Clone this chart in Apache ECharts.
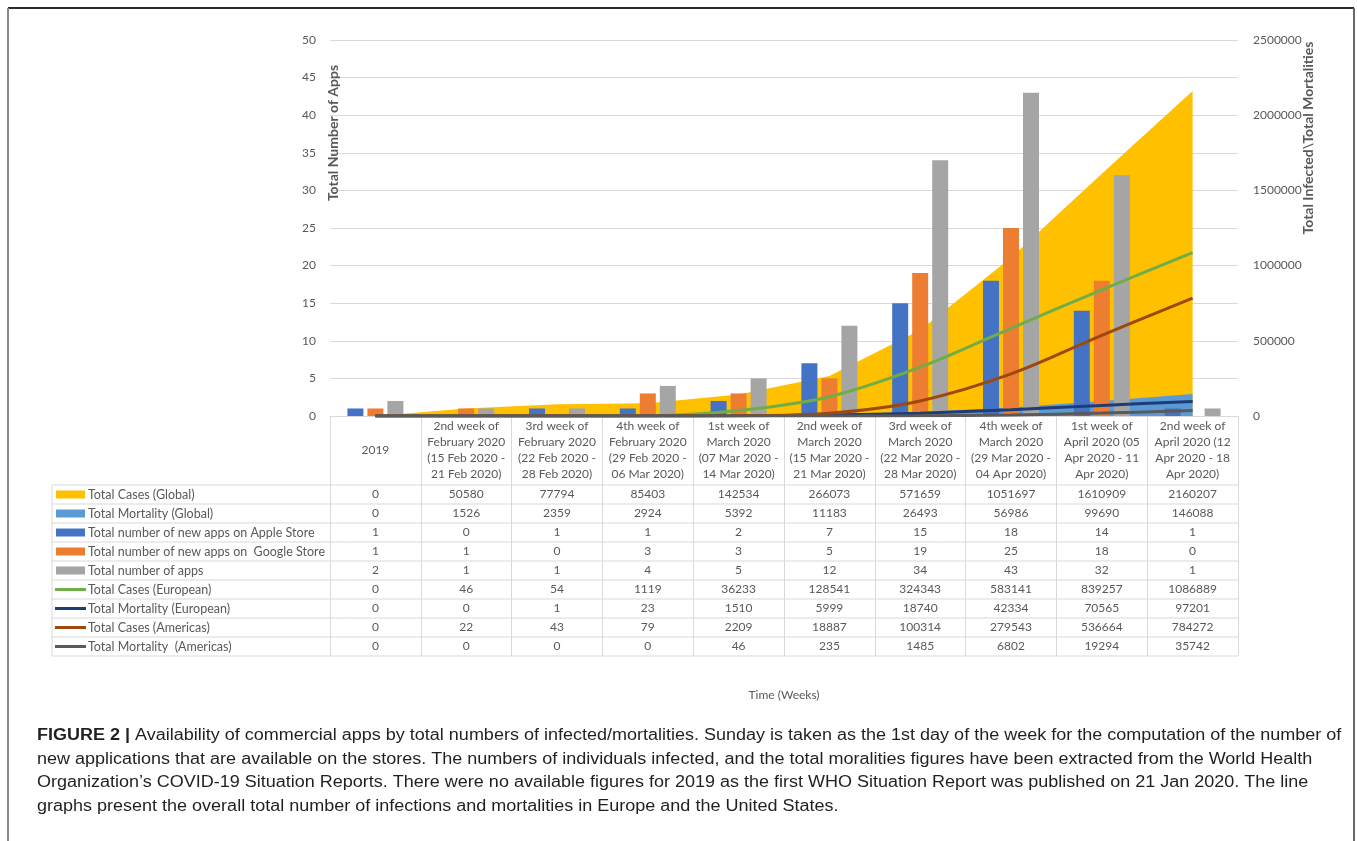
<!DOCTYPE html>
<html>
<head>
<meta charset="utf-8">
<title>Availability of commercial apps vs infected/mortalities</title>
<script src="https://cdn.jsdelivr.net/npm/echarts@6/dist/echarts.min.js"></script>
<style>
  html, body { margin: 0; padding: 0; background: #fff; }
  #chart { width: 1357px; height: 841px; }
</style>
</head>
<body>
<div id="chart"></div>
<script>
// categories (data-table header)
const weeks = [
  "2019",
  "2nd week of\nFebruary 2020\n(15 Feb 2020 -\n21 Feb 2020)",
  "3rd week of\nFebruary 2020\n(22 Feb 2020 -\n28 Feb 2020)",
  "4th week of\nFebruary 2020\n(29 Feb 2020 -\n06 Mar 2020)",
  "1st week of\nMarch 2020\n(07 Mar 2020 -\n14 Mar 2020)",
  "2nd week of\nMarch 2020\n(15 Mar 2020 -\n21 Mar 2020)",
  "3rd week of\nMarch 2020\n(22 Mar 2020 -\n28 Mar 2020)",
  "4th week of\nMarch 2020\n(29 Mar 2020 -\n04 Apr 2020)",
  "1st week of\nApril 2020 (05\nApr 2020 - 11\nApr 2020)",
  "2nd week of\nApril 2020 (12\nApr 2020 - 18\nApr 2020)"
];

const totalCasesGlobal = [0, 50580, 77794, 85403, 142534, 266073, 571659, 1051697, 1610909, 2160207];
const totalMortalityGlobal = [0, 1526, 2359, 2924, 5392, 11183, 26493, 56986, 99690, 146088];
const appleApps = [1, 0, 1, 1, 2, 7, 15, 18, 14, 1];
const googleApps = [1, 1, 0, 3, 3, 5, 19, 25, 18, 0];
const totalApps = [2, 1, 1, 4, 5, 12, 34, 43, 32, 1];
const casesEuropean = [0, 46, 54, 1119, 36233, 128541, 324343, 583141, 839257, 1086889];
const mortalityEuropean = [0, 0, 1, 23, 1510, 5999, 18740, 42334, 70565, 97201];
const casesAmericas = [0, 22, 43, 79, 2209, 18887, 100314, 279543, 536664, 784272];
const mortalityAmericas = [0, 0, 0, 0, 46, 235, 1485, 6802, 19294, 35742];

const leftTicks = { min: 0, max: 50, interval: 5 };
const rightTicks = { min: 0, max: 2500000, interval: 500000 };

// rows of the data table, in table order
const rows = [
  { name: "Total Cases (Global)", data: totalCasesGlobal, kind: "area", color: "#FFC000" },
  { name: "Total Mortality (Global)", data: totalMortalityGlobal, kind: "area", color: "#5B9BD5" },
  { name: "Total number of new apps on Apple Store", data: appleApps, kind: "bar", color: "#4472C4" },
  { name: "Total number of new apps on  Google Store", data: googleApps, kind: "bar", color: "#ED7D31" },
  { name: "Total number of apps", data: totalApps, kind: "bar", color: "#A5A5A5" },
  { name: "Total Cases (European)", data: casesEuropean, kind: "line", color: "#70AD47" },
  { name: "Total Mortality (European)", data: mortalityEuropean, kind: "line", color: "#203C74" },
  { name: "Total Cases (Americas)", data: casesAmericas, kind: "line", color: "#9E480E" },
  { name: "Total Mortality  (Americas)", data: mortalityAmericas, kind: "line", color: "#5A5A5A" }
];

const W = 1357, H = 841;
const GRID_L = 330, GRID_R = 1238, GRID_T = 40, GRID_B = 416;
const HEAD_BOTTOM = 485, ROW_H = 19, LABEL_X = 52;
const FONT = "Lato, 'Open Sans', sans-serif";
const CAPTION_FONT = "'Liberation Sans', Arial, sans-serif";
const TEXT_GREY = "#595959";
const LINE_GREY = "#D9D9D9";

const chart = echarts.init(document.getElementById("chart"), null, { renderer: "canvas" });

const series = rows.map((r) => {
  if (r.kind === "bar") {
    return {
      name: r.name, type: "bar", xAxisIndex: 0, yAxisIndex: 0,
      data: r.data, barWidth: 16, barGap: "25%",
      itemStyle: { color: r.color }
    };
  }
  if (r.kind === "area") {
    return {
      name: r.name, type: "line", xAxisIndex: 0, yAxisIndex: 1,
      data: r.data, symbol: "none", z: 1,
      lineStyle: { width: 0, color: r.color },
      itemStyle: { color: r.color },
      areaStyle: { color: r.color, opacity: 1 }
    };
  }
  return {
    name: r.name, type: "line", xAxisIndex: 0, yAxisIndex: 1,
    data: r.data, symbol: "none", smooth: 0.35, z: 3,
    lineStyle: { width: 3, color: r.color },
    itemStyle: { color: r.color }
  };
});

// header axis + one axis per table row (values as labels)
const xAxes = [{
  type: "category", data: weeks, position: "bottom", boundaryGap: true,
  name: "Time (Weeks)", nameLocation: "middle", nameGap: 273,
  nameTextStyle: { color: TEXT_GREY, fontSize: 12, fontFamily: FONT },
  axisLine: { show: true, lineStyle: { color: LINE_GREY, width: 1 } },
  axisTick: { show: true, interval: 0, length: HEAD_BOTTOM - GRID_B + rows.length * ROW_H, lineStyle: { color: LINE_GREY } },
  axisLabel: {
    interval: 0, margin: 34, verticalAlign: "middle", lineHeight: 16,
    color: TEXT_GREY, fontSize: 12, fontFamily: FONT
  }
}];
rows.forEach((r, i) => {
  xAxes.push({
    type: "category", data: weeks, position: "bottom",
    offset: HEAD_BOTTOM - GRID_B + ROW_H * i + ROW_H / 2,
    axisLine: { show: false }, axisTick: { show: false }, splitLine: { show: false },
    axisLabel: {
      interval: 0, margin: 0, verticalAlign: "middle",
      color: TEXT_GREY, fontSize: 12, fontFamily: FONT,
      formatter: (v, idx) => String(r.data[idx])
    }
  });
});

// table row lines, row labels with legend keys, frame, titles, caption
const graphics = [];
for (let k = 0; k <= rows.length; k++) {
  const y = HEAD_BOTTOM + k * ROW_H;
  graphics.push({ type: "line", shape: { x1: LABEL_X, y1: y, x2: GRID_R, y2: y }, style: { stroke: LINE_GREY, lineWidth: 1 }, z: 10 });
}
graphics.push({ type: "line", shape: { x1: LABEL_X, y1: HEAD_BOTTOM, x2: LABEL_X, y2: HEAD_BOTTOM + rows.length * ROW_H }, style: { stroke: LINE_GREY, lineWidth: 1 }, z: 10 });
rows.forEach((r, i) => {
  const cy = HEAD_BOTTOM + i * ROW_H + ROW_H / 2;
  if (r.kind === "line") {
    graphics.push({ type: "rect", shape: { x: 55, y: cy - 1.5, width: 31, height: 3 }, style: { fill: r.color }, z: 10 });
  } else {
    graphics.push({ type: "rect", shape: { x: 56, y: cy - 4, width: 29, height: 8 }, style: { fill: r.color }, z: 10 });
  }
  graphics.push({
    type: "text", x: 88, y: cy, z: 10,
    style: { text: r.name, fill: TEXT_GREY, font: "12.5px " + FONT, verticalAlign: "middle", align: "left" }
  });
});
graphics.push({
  type: "text", x: 333, y: 133, rotation: Math.PI / 2, z: 10,
  style: { text: "Total Number of Apps", fill: TEXT_GREY, font: "bold 14px " + FONT, align: "center", verticalAlign: "middle" }
});
graphics.push({
  type: "text", x: 1308, y: 138, rotation: Math.PI / 2, z: 10,
  style: { text: "Total Infected\\Total Mortalities", fill: TEXT_GREY, font: "bold 14px " + FONT, align: "center", verticalAlign: "middle" }
});
// frame
graphics.push({ type: "line", shape: { x1: 8, y1: 8, x2: 1354, y2: 8 }, style: { stroke: "#2b2b2b", lineWidth: 2 } });
graphics.push({ type: "line", shape: { x1: 8, y1: 8, x2: 8, y2: H }, style: { stroke: "#8a8a8a", lineWidth: 2 } });
graphics.push({ type: "line", shape: { x1: 1354, y1: 8, x2: 1354, y2: H }, style: { stroke: "#6a6a6a", lineWidth: 2 } });
// caption
const captionLines = [
  "{b|FIGURE 2 |} Availability of commercial apps by total numbers of infected/mortalities. Sunday is taken as the 1st day of the week for the computation of the number of",
  "new applications that are available on the stores. The numbers of individuals infected, and the total moralities figures have been extracted from the World Health",
  "Organization\u2019s COVID-19 Situation Reports. There were no available figures for 2019 as the first WHO Situation Report was published on 21 Jan 2020. The line",
  "graphs present the overall total number of infections and mortalities in Europe and the United States."
];
captionLines.forEach((t, i) => {
  graphics.push({
    type: "text", x: 37, y: 736 + i * 23.5, scaleX: 1.125,
    style: {
      text: t, fill: "#231F20", font: "16px " + CAPTION_FONT, verticalAlign: "middle",
      rich: { b: { fontWeight: "bold", fontSize: 16, fontFamily: CAPTION_FONT, fill: "#231F20" } }
    }
  });
});

chart.setOption({
  animation: false,
  backgroundColor: "#ffffff",
  grid: { left: GRID_L, right: W - GRID_R, top: GRID_T, bottom: H - GRID_B, containLabel: false },
  xAxis: xAxes,
  yAxis: [
    {
      type: "value", position: "left", min: leftTicks.min, max: leftTicks.max, interval: leftTicks.interval,
      axisLine: { show: false }, axisTick: { show: false },
      axisLabel: { color: TEXT_GREY, fontSize: 12, fontFamily: FONT, margin: 14 },
      splitLine: { show: true, lineStyle: { color: LINE_GREY, width: 1 } }
    },
    {
      type: "value", position: "right", min: rightTicks.min, max: rightTicks.max, interval: rightTicks.interval,
      axisLine: { show: false }, axisTick: { show: false },
      axisLabel: { color: TEXT_GREY, fontSize: 12, fontFamily: FONT, margin: 15, formatter: (v) => String(v) },
      splitLine: { show: false }
    }
  ],
  series: series,
  graphic: graphics
});
</script>
</body>
</html>
